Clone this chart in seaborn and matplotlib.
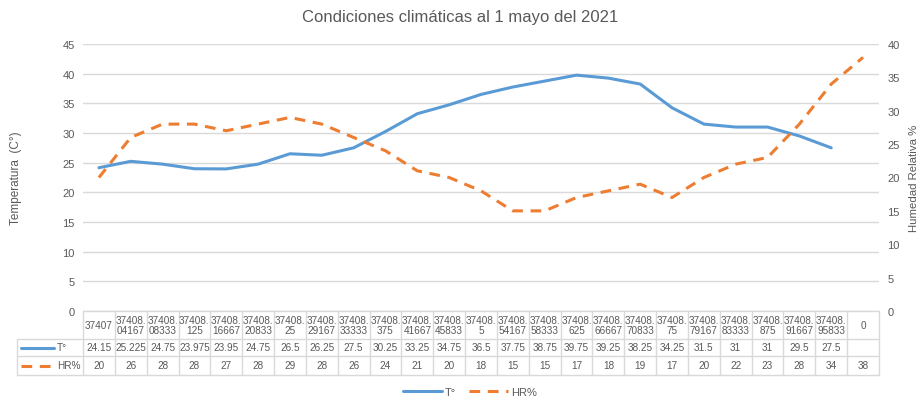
import numpy as np
import pandas as pd
import seaborn as sns
import matplotlib.pyplot as plt
from matplotlib.lines import Line2D
import matplotlib.transforms as mtransforms

# categorías (tal como aparecen en la tabla)
categories = ['37407', '37408.04167', '37408.08333', '37408.125', '37408.16667',
              '37408.20833', '37408.25', '37408.29167', '37408.33333', '37408.375',
              '37408.41667', '37408.45833', '37408.5', '37408.54167', '37408.58333',
              '37408.625', '37408.66667', '37408.70833', '37408.75', '37408.79167',
              '37408.83333', '37408.875', '37408.91667', '37408.95833', '0']
temp = [24.15, 25.225, 24.75, 23.975, 23.95, 24.75, 26.5, 26.25, 27.5, 30.25,
        33.25, 34.75, 36.5, 37.75, 38.75, 39.75, 39.25, 38.25, 34.25, 31.5,
        31, 31, 29.5, 27.5]
hr = [20, 26, 28, 28, 27, 28, 29, 28, 26, 24, 21, 20, 18, 15, 15, 17, 18, 19,
      17, 20, 22, 23, 28, 34, 38]

BLUE = '#5B9BD5'
ORANGE = '#ED7D31'
GRAY = '#595959'
GRID = '#D9D9D9'

sns.set_theme(style='white')
plt.rcParams['font.family'] = ['Liberation Sans Narrow', 'Liberation Sans', 'DejaVu Sans']

df_t = pd.DataFrame({'pos': np.arange(len(temp)), 'T': temp})
df_h = pd.DataFrame({'pos': np.arange(len(hr)), 'HR': hr})

fig = plt.figure(figsize=(9.2, 4.02), dpi=100)
W, H = 920, 402
x0, x1, y0, y1 = 83, 879, 312, 45
pw = x1 - x0
ax = fig.add_axes([x0 / W, 1 - y0 / H, pw / W, (y0 - y1) / H])
ax2 = ax.twinx()

sns.lineplot(data=df_t, x='pos', y='T', ax=ax, color=BLUE, linewidth=2.2)
sns.lineplot(data=df_h, x='pos', y='HR', ax=ax2, color=ORANGE, linewidth=2.2)
ax2.lines[0].set_dashes((3.5, 2.5))

ncat = len(categories)
ax.set_xlim(-0.5, ncat - 0.5)
ax.set_ylim(0, 45)
ax2.set_ylim(0, 40)
ax.set_yticks(np.arange(0, 46, 5))
ax2.set_yticks(np.arange(0, 41, 5))
ax.set_xticks([])
ax.grid(axis='y', color=GRID, linewidth=1)
ax.set_axisbelow(True)
for a in (ax, ax2):
    for s in a.spines.values():
        s.set_visible(False)
    a.tick_params(axis='y', length=0, labelsize=8, colors=GRAY, pad=6)
    a.set_xlabel('')
ax.set_ylabel('Temperatura  (C°)', fontsize=8.5, color=GRAY)
ax.yaxis.set_label_coords((22 - x0) / pw, 0.5)
ax2.set_ylabel('Humedad Relativa %', fontsize=8.2, color=GRAY, rotation=90)
ax2.yaxis.set_label_coords((909 - x0) / pw, 0.5)

fig.suptitle('Condiciones climáticas al 1 mayo del 2021', y=0.975,
             fontsize=12, color=GRAY)

# tabla de datos bajo el gráfico
ph = y0 - y1
rows = [0, -(340 - y0) / ph, -(357 - y0) / ph, -(376 - y0) / ph]
left_hdr = (17 - x0) / pw
tr = mtransforms.blended_transform_factory(ax.transData, ax.transAxes)
tra = ax.transAxes
lk = dict(color=GRID, linewidth=1, clip_on=False)

for r in rows:
    ax.add_line(Line2D([-0.5, ncat - 0.5], [r, r], transform=tr, **lk))
for r in rows[1:]:
    ax.add_line(Line2D([left_hdr, 0], [r, r], transform=tra, **lk))
for i in range(ncat + 1):
    ax.add_line(Line2D([i - 0.5, i - 0.5], [rows[0], rows[3]], transform=tr, **lk))
ax.add_line(Line2D([left_hdr, left_hdr], [rows[1], rows[3]], transform=tra, **lk))

fs = 7.2
for i, c in enumerate(categories):
    lab = c.replace('.', '.\n') if '.' in c else c
    ax.text(i, (rows[0] + rows[1]) / 2, lab, transform=tr, ha='center', va='center',
            fontsize=fs, color=GRAY, linespacing=1.0)
    if i < len(temp):
        ax.text(i, (rows[1] + rows[2]) / 2, f'{temp[i]:g}', transform=tr,
                ha='center', va='center', fontsize=fs, color=GRAY)
    ax.text(i, (rows[2] + rows[3]) / 2, f'{hr[i]:g}', transform=tr,
            ha='center', va='center', fontsize=fs, color=GRAY)

# claves de leyenda dentro de la tabla
kx0, kx1 = (21 - x0) / pw, (54 - x0) / pw
ym = (rows[1] + rows[2]) / 2
ax.add_line(Line2D([kx0, kx1], [ym, ym], transform=tra, color=BLUE, linewidth=2.2, clip_on=False))
ax.text((57 - x0) / pw, ym, 'T°', transform=tra, va='center', fontsize=fs, color=GRAY)
ym = (rows[2] + rows[3]) / 2
kl = Line2D([kx0, kx1], [ym, ym], transform=tra, color=ORANGE, linewidth=2.2, clip_on=False)
kl.set_dashes((3.5, 2.5))
ax.add_line(kl)
ax.text((57 - x0) / pw, ym, 'HR%', transform=tra, va='center', fontsize=fs, color=GRAY)

handles = [Line2D([], [], color=BLUE, linewidth=2.2),
           Line2D([], [], color=ORANGE, linewidth=2.2, dashes=(3.5, 2.5))]
fig.legend(handles, ['T°', 'HR%'], loc='center', bbox_to_anchor=(470 / W, 1 - 393 / H),
           ncol=2, frameon=False, fontsize=8, handlelength=3.5, columnspacing=1.2,
           handletextpad=0.3, labelcolor=GRAY)

fig.savefig('out.png', dpi=100)
